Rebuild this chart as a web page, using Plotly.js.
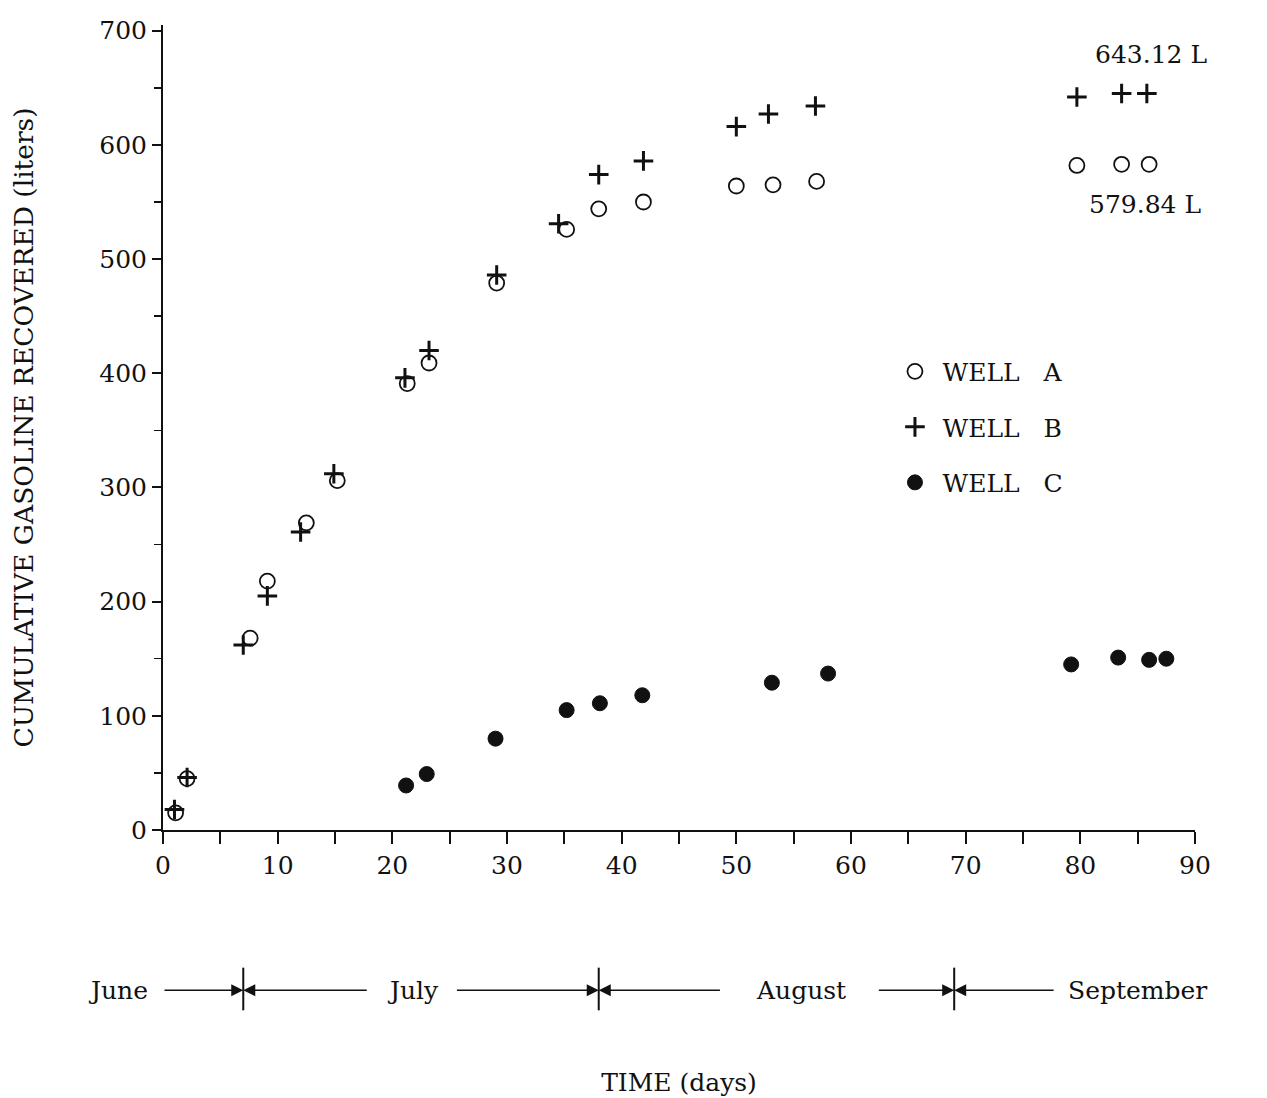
<!DOCTYPE html>
<html>
<head>
<meta charset="utf-8">
<script src="https://cdn.plot.ly/plotly-3.0.1.min.js"></script>
<style>
  html, body { margin: 0; padding: 0; background: #ffffff; }
  #chart { width: 1267px; height: 1098px; }
</style>
</head>
<body>
<div id="chart"></div>
<script>
// ---- data ----
const wellADays = [1.1, 2.1, 7.6, 9.1, 12.5, 15.2, 21.3, 23.2, 29.1, 35.2, 38.0, 41.9, 50.0, 53.2, 57.0, 79.7, 83.6, 86.0];
const wellALiters = [15, 45, 168, 218, 269, 306, 391, 409, 479, 526, 544, 550, 564, 565, 568, 582, 583, 583];

const wellBDays = [1.0, 2.1, 7.0, 9.1, 12.0, 14.9, 21.1, 23.2, 29.1, 34.5, 38.0, 41.9, 50.0, 52.8, 56.9, 79.7, 83.6, 85.8];
const wellBLiters = [18, 46, 162, 205, 261, 312, 396, 420, 486, 531, 574, 586, 616, 627, 634, 642, 645, 645];

const wellCDays = [21.2, 23.0, 29.0, 35.2, 38.1, 41.8, 53.1, 58.0, 79.2, 83.3, 86.0, 87.5];
const wellCLiters = [39, 49, 80, 105, 111, 118, 129, 137, 145, 151, 149, 150];

const seriesNames = ["WELL\u00a0\u00a0\u00a0A", "WELL\u00a0\u00a0\u00a0B", "WELL\u00a0\u00a0\u00a0C"];
const finalLabels = ["643.12 L", "579.84 L", "153.10 L"];
const monthNames = ["June", "July", "August", "September"];
const monthBoundaries = [7, 38, 69];   // day at which each month ends

// ---- styling / layout ----
const FONT = "DejaVu Serif, Liberation Serif, serif";
const INK = "#111111";

const traces = [
  {
    x: wellADays, y: wellALiters, name: seriesNames[0], type: "scatter", mode: "markers",
    legendgroup: "a",
    marker: { symbol: "circle-open", size: 15, color: INK, line: { width: 1.8, color: INK } },
    cliponaxis: false
  },
  {
    x: wellBDays, y: wellBLiters, name: seriesNames[1], type: "scatter", mode: "markers",
    legendgroup: "b",
    marker: { symbol: "cross-thin-open", size: 14, color: INK, line: { width: 3, color: INK } },
    cliponaxis: false
  },
  {
    x: wellCDays, y: wellCLiters, name: seriesNames[2], type: "scatter", mode: "markers",
    legendgroup: "c",
    marker: { symbol: "circle", size: 15, color: INK, line: { width: 1, color: INK } },
    cliponaxis: false
  }
];

// month strip below the axis
const rowY = -0.199;
const monthLabelX = [-3.9, 21.8, 55.6, 85.0];
const arrowSpans = [
  // [tail, head]
  [0, monthBoundaries[0]],
  [17.9, monthBoundaries[0]],
  [25.5, monthBoundaries[1]],
  [48.7, monthBoundaries[1]],
  [62.3, monthBoundaries[2]],
  [77.8, monthBoundaries[2]]
];

const annotations = [];
monthNames.forEach((m, i) => {
  const inRange = monthLabelX[i] >= 0;
  annotations.push({
    x: inRange ? monthLabelX[i] : (monthLabelX[i] / 90), y: rowY,
    xref: inRange ? "x" : "paper", yref: "paper",
    text: m, showarrow: false, xanchor: "center", yanchor: "middle",
    font: { family: FONT, size: 25, color: INK }
  });
});
arrowSpans.forEach(s => {
  annotations.push({
    x: s[1], y: rowY, xref: "x", yref: "paper",
    ax: s[0], ay: 0, axref: "x", ayref: "pixel",
    text: "", showarrow: true, arrowhead: 2, arrowsize: 1.6, arrowwidth: 1.5,
    arrowcolor: INK, standoff: 0, startstandoff: 0
  });
});

// final-value labels
const finalPos = [[86.2, 679], [85.6, 548], [90.9, 116.5]];
finalLabels.forEach((t, i) => {
  annotations.push({
    x: finalPos[i][0], y: finalPos[i][1], xref: "x", yref: "y",
    text: t, showarrow: false, xanchor: "center", yanchor: "middle",
    font: { family: FONT, size: 25, color: INK }
  });
});

const shapes = monthBoundaries.map(d => ({
  type: "line", xref: "x", yref: "paper",
  x0: d, x1: d, y0: -0.171, y1: -0.224,
  line: { color: INK, width: 2 }
}));

const layout = {
  width: 1267, height: 1098,
  paper_bgcolor: "#ffffff", plot_bgcolor: "#ffffff",
  margin: { l: 163, r: 72, t: 25, b: 268 },
  font: { family: FONT, size: 25, color: INK },
  showlegend: true,
  legend: {
    x: 0.702, y: 0.598, xanchor: "left", yanchor: "top",
    bgcolor: "rgba(0,0,0,0)", borderwidth: 0,
    font: { family: FONT, size: 25, color: INK },
    tracegroupgap: 20, itemsizing: "trace", itemwidth: 45
  },
  xaxis: {
    range: [0, 90], dtick: 10, tick0: 0,
    showgrid: false, zeroline: false,
    showline: true, linecolor: INK, linewidth: 2,
    ticks: "outside", ticklen: 12, tickwidth: 2, tickcolor: INK,
    minor: { dtick: 5, ticks: "outside", ticklen: 12, tickwidth: 2, tickcolor: INK, showgrid: false },
    tickfont: { family: FONT, size: 25, color: INK },
    title: { text: "TIME (days)", standoff: 194, font: { family: FONT, size: 25, color: INK } },
    automargin: false, fixedrange: true
  },
  yaxis: {
    range: [0, 705], dtick: 100, tick0: 0,
    showgrid: false, zeroline: false,
    showline: true, linecolor: INK, linewidth: 2,
    ticks: "outside", ticklen: 9, tickwidth: 2, tickcolor: INK,
    minor: { dtick: 50, ticks: "outside", ticklen: 7, tickwidth: 1.5, tickcolor: INK, showgrid: false },
    tickfont: { family: FONT, size: 25, color: INK },
    title: { text: "CUMULATIVE GASOLINE RECOVERED (liters)", standoff: 58, font: { family: FONT, size: 26.5, color: INK } },
    automargin: false, fixedrange: true
  },
  annotations: annotations,
  shapes: shapes
};

Plotly.newPlot("chart", traces, layout, { displayModeBar: false, staticPlot: true });
</script>
</body>
</html>
